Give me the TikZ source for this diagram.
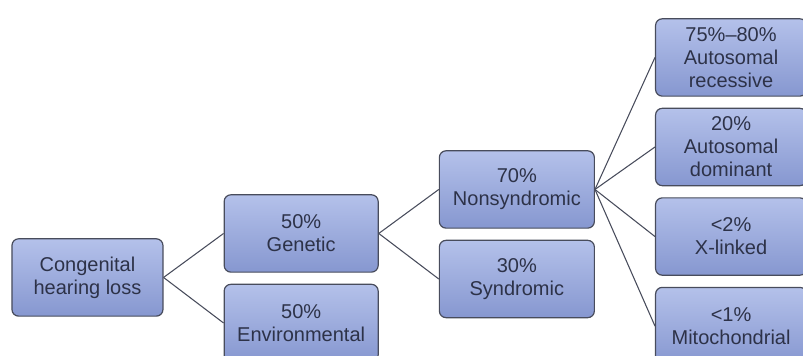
\documentclass[tikz,border=0pt]{standalone}
\usepackage{fontspec}
\setmainfont{Liberation Sans}
\usepackage{tikz}
\usetikzlibrary{positioning}

\definecolor{boxtop}{RGB}{180,193,234}
\definecolor{boxbottom}{RGB}{134,151,208}
\definecolor{boxline}{RGB}{72,76,92}
\definecolor{boxtext}{RGB}{45,50,72}

\begin{document}
\begin{tikzpicture}[node distance=45pt, font=\fontsize{15}{17.25}\selectfont]
  \tikzstyle{cbox}=[rectangle, rounded corners=5pt, top color=boxtop, bottom color=boxbottom, draw=boxline, line width=0.9pt, text=boxtext, align=center, inner sep=2pt, minimum width=115.5pt, minimum height=58pt]
  \tikzstyle{nbox}=[cbox, minimum width=113.25pt]
  \tikzstyle{link}=[draw=boxline, line width=0.8pt]
  \useasboundingbox (0,0) rectangle (602.25pt,-267pt);

  \node (chl) [nbox] at (65.6pt,-208.1pt) {Congenital\\hearing loss};

  \node (gen) [cbox, right=of chl, yshift=33pt]{50\%\\Genetic};
  \node (env) [cbox, below=8.25pt of gen]{50\%\\Environmental};

  \node (nsy) [cbox, right=of gen, yshift=33pt, minimum width=116.25pt]{70\%\\Nonsyndromic};
  \node (syn) [cbox, below=8.25pt of nsy, minimum width=116.25pt]{30\%\\Syndromic};

  \node (ar) [nbox, right=of nsy, yshift=99pt]{75\%--80\%\\Autosomal\\recessive};
  \node (ad) [nbox, below=8.25pt of ar]{20\%\\Autosomal\\dominant};
  \node (xl) [nbox, below=8.25pt of ad]{<2\%\\X-linked};
  \node (mt) [nbox, below=8.25pt of xl]{<1\%\\Mitochondrial};

  \draw[link] (chl.east) -- (gen.west);
  \draw[link] (chl.east) -- (env.west);
  \draw[link] (gen.east) -- (nsy.west);
  \draw[link] (gen.east) -- (syn.west);
  \foreach \n in {ar,ad,xl,mt}
    \draw[link] (nsy.east) -- (\n.west);
\end{tikzpicture}
\end{document}
